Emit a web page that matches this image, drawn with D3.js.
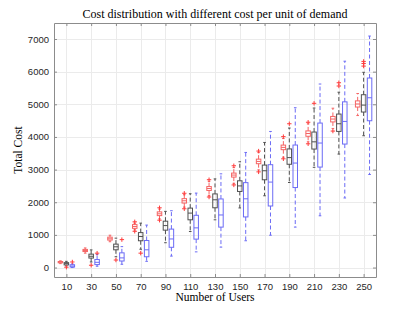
<!DOCTYPE html>
<html>
<head>
<meta charset="utf-8">
<script src="https://cdn.jsdelivr.net/npm/d3@7"></script>
<style>
  body { margin: 0; background: #fff; }
  svg { display: block; }
</style>
</head>
<body>
<div id="chart"></div>
<script>
// number of users per group
const userCounts = [10, 30, 50, 70, 90, 110, 130, 150, 170, 190, 210, 230, 250];
const yTicks = [0, 1000, 2000, 3000, 4000, 5000, 6000, 7000];

// [lower whisker, q1, median, q3, upper whisker]
const redStats = [
    [120, 145, 165, 185, 205],
    [440, 490, 520, 555, 600],
    [790, 840, 880, 930, 990],
    [1150, 1200, 1255, 1315, 1360],
    [1490, 1590, 1645, 1705, 1790],
    [1850, 1975, 2045, 2110, 2230],
    [2200, 2360, 2420, 2480, 2640],
    [2580, 2770, 2832, 2893, 3060],
    [2990, 3180, 3250, 3320, 3520],
    [3380, 3610, 3680, 3750, 3950],
    [3850, 4020, 4105, 4185, 4400],
    [4260, 4460, 4548, 4628, 4880],
    [4655, 4916, 5010, 5105, 5330]
];
const redOutliers = [
    [], [], [], [1400, 1110], [1830, 1450], [2275, 1800], [2690, 2160],
    [3117, 2530], [3567, 2930], [4010, 3330], [4450, 3790], [4180], []
];

const blackStats = [
    [50, 80, 120, 150, 190],
    [170, 290, 345, 410, 540],
    [330, 543, 635, 717, 900],
    [560, 820, 950, 1070, 1360],
    [760, 1145, 1285, 1420, 1720],
    [1103, 1462, 1667, 1820, 2260],
    [1462, 1830, 2075, 2255, 2715],
    [1825, 2330, 2500, 2657, 3240],
    [2198, 2688, 2964, 3138, 3831],
    [2605, 3163, 3367, 3633, 4272],
    [3070, 3629, 3850, 4150, 4885],
    [3475, 4169, 4404, 4701, 5370],
    [4037, 4763, 4975, 5293, 5980]
];
const blackOutliers = [
    [10], [70], [230], [440], [], [], [], [], [], [4404], [5030], [5560, 5660], [6170, 6250, 6314]
];

const blueStats = [
    [0, 15, 45, 85, 110],
    [40, 90, 160, 245, 400],
    [100, 200, 295, 450, 640],
    [190, 330, 543, 828, 1300],
    [350, 620, 875, 1177, 1740],
    [480, 870, 1215, 1600, 2280],
    [625, 1238, 1610, 2100, 2870],
    [820, 1550, 2105, 2600, 3525],
    [990, 1885, 2617, 3150, 4168],
    [1238, 2450, 3200, 3752, 4895],
    [1585, 3077, 3813, 4425, 5621],
    [2130, 3782, 4475, 5075, 6320],
    [2850, 4496, 5200, 5805, 7090]
];
const blueOutliers = [
    [170], [440], [855], [], [], [], [], [], [], [], [], [], []
];

const W = 415, H = 312;
const margin = {top: 23, right: 39, bottom: 35, left: 54};
const width = W - margin.left - margin.right;
const height = H - margin.top - margin.bottom;

const svg = d3.select("#chart").append("svg")
    .attr("width", W)
    .attr("height", H);

const g = svg.append("g")
    .attr("transform", `translate(${margin.left},${margin.top})`);

const x = d3.scaleLinear()
    .domain([0.5, userCounts.length + 0.5])
    .range([0, width]);

const y = d3.scaleLinear()
    .domain([-290, 7490])
    .range([height, 0]);

const xTickVals = userCounts.map((d, i) => i + 1);

// grid
g.append("g").selectAll("line")
    .data(xTickVals)
    .join("line")
    .attr("x1", d => Math.round(x(d)) + 0.5)
    .attr("x2", d => Math.round(x(d)) + 0.5)
    .attr("y1", 0)
    .attr("y2", height)
    .attr("stroke", "#ebebeb");

g.append("g").selectAll("line")
    .data(yTicks)
    .join("line")
    .attr("y1", d => Math.round(y(d)) + 0.5)
    .attr("y2", d => Math.round(y(d)) + 0.5)
    .attr("x1", 0)
    .attr("x2", width)
    .attr("stroke", "#ebebeb");

// axes
const axisColor = "#8c8c8c";
const tickFont = "'Liberation Sans', Arial, sans-serif";

const xAxis = g.append("g")
    .attr("transform", `translate(0,${height})`)
    .call(d3.axisBottom(x).tickValues(xTickVals)
        .tickFormat((d, i) => userCounts[i])
        .tickSizeInner(-3).tickSizeOuter(0).tickPadding(6));

const xAxisTop = g.append("g")
    .call(d3.axisTop(x).tickValues(xTickVals)
        .tickFormat("").tickSizeInner(-3).tickSizeOuter(0));

const yAxis = g.append("g")
    .call(d3.axisLeft(y).tickValues(yTicks)
        .tickFormat(d3.format("d"))
        .tickSizeInner(-3).tickSizeOuter(0).tickPadding(5));

const yAxisRight = g.append("g")
    .attr("transform", `translate(${width},0)`)
    .call(d3.axisRight(y).tickValues(yTicks)
        .tickFormat("").tickSizeInner(-3).tickSizeOuter(0));

[xAxis, xAxisTop, yAxis, yAxisRight].forEach(a => {
    a.select(".domain").attr("stroke", axisColor);
    a.selectAll(".tick line").attr("stroke", axisColor);
    a.selectAll(".tick text")
        .attr("fill", "#262626")
        .style("font-family", tickFont)
        .style("font-size", "9.5px");
});

// boxes
const series = [
    {stats: redStats, outliers: redOutliers, color: "#f56464", offset: -0.24},
    {stats: blackStats, outliers: blackOutliers, color: "#505050", offset: 0},
    {stats: blueStats, outliers: blueOutliers, color: "#6b6bf5", offset: 0.24}
];

const boxW = 4.5;
const capW = 1.3;

series.forEach(s => {
    const sg = g.append("g");
    s.stats.forEach((st, i) => {
        const cx = x(i + 1 + s.offset);
        const [lo, q1, med, q3, hi] = st;
        // whiskers
        sg.append("line")
            .attr("x1", cx).attr("x2", cx)
            .attr("y1", y(q3)).attr("y2", y(hi))
            .attr("stroke", s.color).attr("stroke-dasharray", "4,2.5");
        sg.append("line")
            .attr("x1", cx).attr("x2", cx)
            .attr("y1", y(q1)).attr("y2", y(lo))
            .attr("stroke", s.color).attr("stroke-dasharray", "4,2.5");
        [lo, hi].forEach(v => {
            sg.append("line")
                .attr("x1", cx - capW).attr("x2", cx + capW)
                .attr("y1", y(v)).attr("y2", y(v))
                .attr("stroke", s.color);
        });
        sg.append("rect")
            .attr("x", cx - boxW / 2)
            .attr("y", y(q3))
            .attr("width", boxW)
            .attr("height", y(q1) - y(q3))
            .attr("fill", "none")
            .attr("stroke", s.color);
        sg.append("line")
            .attr("x1", cx - boxW / 2).attr("x2", cx + boxW / 2)
            .attr("y1", y(med)).attr("y2", y(med))
            .attr("stroke", s.color);
        // outliers
        s.outliers[i].forEach(v => {
            sg.append("path")
                .attr("d", `M${cx - 2.2},${y(v)}H${cx + 2.2}M${cx},${y(v) - 2.2}V${y(v) + 2.2}`)
                .attr("stroke", "#ff3b3b")
                .attr("fill", "none");
        });
    });
});

// titles
const serif = "'Liberation Serif', 'Times New Roman', serif";

svg.append("text")
    .attr("x", margin.left + width / 2)
    .attr("y", 18)
    .attr("text-anchor", "middle")
    .style("font-family", serif)
    .style("font-size", "12px")
    .attr("fill", "#000")
    .text("Cost distribution with different cost per unit of demand");

svg.append("text")
    .attr("x", margin.left + width / 2)
    .attr("y", 301)
    .attr("text-anchor", "middle")
    .style("font-family", serif)
    .style("font-size", "11.5px")
    .attr("fill", "#000")
    .text("Number of Users");

svg.append("text")
    .attr("transform", `translate(22,${margin.top + height / 2}) rotate(-90)`)
    .attr("text-anchor", "middle")
    .style("font-family", serif)
    .style("font-size", "11.5px")
    .attr("fill", "#000")
    .text("Total Cost");
</script>
</body>
</html>
